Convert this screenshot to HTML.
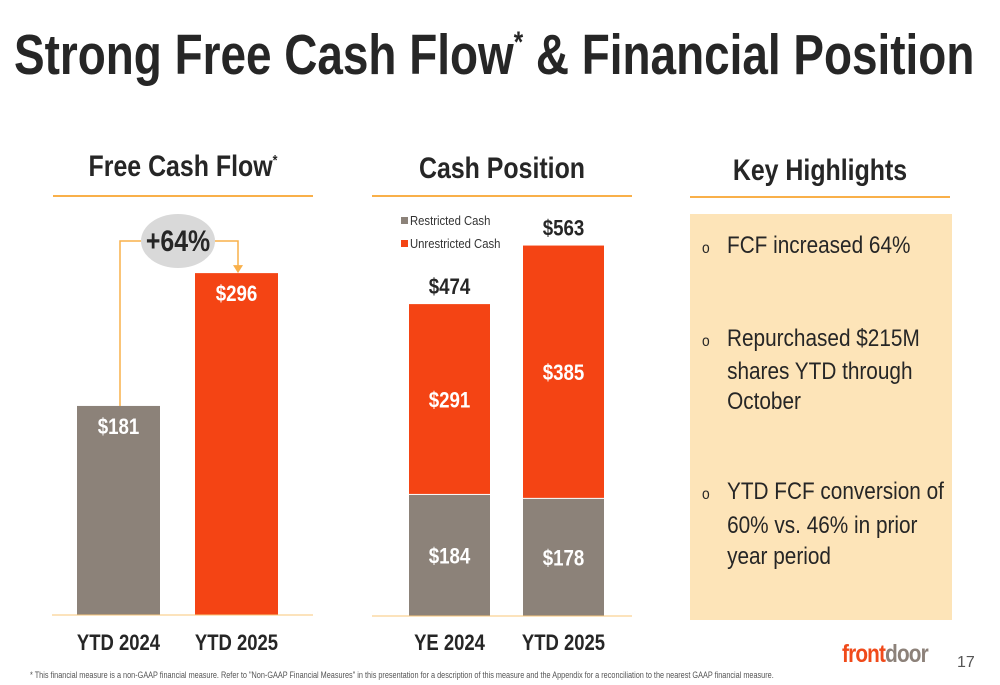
<!DOCTYPE html>
<html><head><meta charset="utf-8"><style>
body{margin:0;width:1000px;height:685px;background:#fff;overflow:hidden;position:relative;font-family:"Liberation Sans",sans-serif;color:#262626}
.a{position:absolute}
.h{font-weight:bold;font-size:30px;text-align:center;white-space:nowrap;transform:scaleX(.83);transform-origin:center}
.line{position:absolute;height:2px;background:#f9b04a}
.hl{position:absolute;left:690px;top:214px;width:262px;height:406px;background:#fde4b8}
.b{font-size:24px;white-space:nowrap;transform:scaleX(.865);transform-origin:left}
</style></head><body>
<div class="a" style="left:14px;top:22px;font-size:57px;font-weight:bold;white-space:nowrap;transform:scaleX(.805);transform-origin:left">Strong Free Cash Flow<sup style="font-size:30px;vertical-align:22px">*</sup> &amp; Financial Position</div>
<div class="a h" style="left:53px;width:260px;top:150px">Free Cash Flow<sup style="font-size:15px">*</sup></div>
<div class="a h" style="left:372px;width:260px;top:152px">Cash Position</div>
<div class="a h" style="left:690px;width:260px;top:154px">Key Highlights</div>
<div class="line" style="left:53px;width:260px;top:195px"></div>
<div class="line" style="left:372px;width:260px;top:195px"></div>
<div class="line" style="left:690px;width:260px;top:196px"></div>
<svg class="a" style="left:0;top:0" width="1000" height="685" id="svg"></svg>
<div class="hl">
 <div class="a b" style="left:12px;top:18px"><span style="font-size:16px">o</span>&nbsp;&nbsp;&nbsp;FCF increased 64%</div>
 <div class="a b" style="left:12px;top:110px;line-height:30px"><span style="font-size:16px">o</span>&nbsp;&nbsp;&nbsp;Repurchased $215M<br><span style="padding-left:29px">shares YTD through</span><br><span style="padding-left:29px">October</span></div>
 <div class="a b" style="left:12px;top:262px;line-height:31px"><span style="font-size:16px">o</span>&nbsp;&nbsp;&nbsp;YTD FCF conversion of<br><span style="padding-left:29px">60% vs. 46% in prior</span><br><span style="padding-left:29px">year period</span></div>
</div>
<div class="a" style="left:842px;top:640px;font-size:25px;font-weight:bold;letter-spacing:-1px;transform:scaleX(.83);transform-origin:left"><span style="color:#f04a1a">front</span><span style="color:#8c8179">door</span></div>
<div class="a" style="left:957px;top:654px;font-size:16px;color:#555">17</div>
<div class="a" style="left:30px;top:670px;font-size:9px;color:#555;white-space:nowrap;transform:scaleX(.81);transform-origin:left">* This financial measure is a non-GAAP financial measure. Refer to "Non-GAAP Financial Measures" in this presentation for a description of this measure and the Appendix for a reconciliation to the nearest GAAP financial measure.</div>
<script>
const fcfCats=["YTD 2024","YTD 2025"];
const fcfVals=[181,296];
const cashCats=["YE 2024","YTD 2025"];
const restricted=[184,178];
const unrestricted=[291,385];
const totals=[474,563];
const NS="http://www.w3.org/2000/svg";
const svg=document.getElementById('svg');
const GREY="#8c8279",RED="#f44414";
function el(t,a,txt){const e=document.createElementNS(NS,t);for(const k in a)e.setAttribute(k,a[k]);if(txt!==undefined)e.textContent=txt;svg.appendChild(e);return e;}
const F='"Liberation Sans",sans-serif';
function tx(x,y,s,size,fill,sx,anchor){
 const e=el('text',{x:x,y:y,'text-anchor':anchor||'middle',fill:fill,'font-size':size,'font-weight':'bold','font-family':F,transform:`translate(${x},0) scale(${sx||0.85},1) translate(${-x},0)`},s);
 return e;
}
// FCF
const fy=v=>615-v*1.155;const fx=[77,195];
fcfVals.forEach((v,i)=>{
 const r=el('rect',{x:fx[i],y:fy(v),width:83,height:615-fy(v),fill:i?RED:GREY});
 
 
 const t=tx(fx[i]+41.5,fy(v)+28,'$'+v,22,'#fff');
 
 
 const c=tx(fx[i]+41.5,650,fcfCats[i],22,'#262626',0.84);
 
 
});
el('line',{x1:52,y1:615,x2:313,y2:615,stroke:'#f9c77a','stroke-width':1});
el('polyline',{points:`120,${fy(fcfVals[0])} 120,241 238,241 238,${fy(fcfVals[1])-6}`,fill:'none',stroke:'#f9b04a','stroke-width':1.5});
el('polygon',{points:`233,${fy(fcfVals[1])-8} 243,${fy(fcfVals[1])-8} 238,${fy(fcfVals[1])}`,fill:'#f9b04a'});
el('ellipse',{cx:178,cy:241,rx:37,ry:27,fill:'#d9d9d9'});
const pct=Math.round((fcfVals[1]/fcfVals[0]-1)*100);
const pt=tx(178,251,'+'+pct+'%',30,'#262626',0.83);


// Cash
const cy=v=>616-v*0.658;const cx=[409,523];
cashCats.forEach((c,i)=>{
 const g=el('rect',{x:cx[i],y:cy(restricted[i]),width:81,height:616-cy(restricted[i]),fill:GREY});
 
 
 const top=cy(totals[i]);
 const r=el('rect',{x:cx[i],y:top,width:81,height:cy(restricted[i])-top-1,fill:RED});
 
 
 tx(cx[i]+40.5,(cy(restricted[i])+616)/2+8,'$'+restricted[i],22,'#fff');
 tx(cx[i]+40.5,(top+cy(restricted[i]))/2+8,'$'+unrestricted[i],22,'#fff');
 const tt=tx(cx[i]+40.5,top-10,'$'+totals[i],22,'#262626');
 
 
 const cl=tx(cx[i]+40.5,650,c,22,'#262626',0.84);
 
 
});
el('line',{x1:372,y1:616,x2:632,y2:616,stroke:'#f9c77a','stroke-width':1});
el('rect',{x:401,y:217,width:7,height:7,fill:GREY});
el('text',{x:410,y:225,fill:'#333','font-size':13,'font-family':F,transform:'translate(410,0) scale(0.87,1) translate(-410,0)'},'Restricted Cash');
el('rect',{x:401,y:240,width:7,height:7,fill:RED});
el('text',{x:410,y:248,fill:'#333','font-size':13,'font-family':F,transform:'translate(410,0) scale(0.87,1) translate(-410,0)'},'Unrestricted Cash');
</script>
</body></html>
